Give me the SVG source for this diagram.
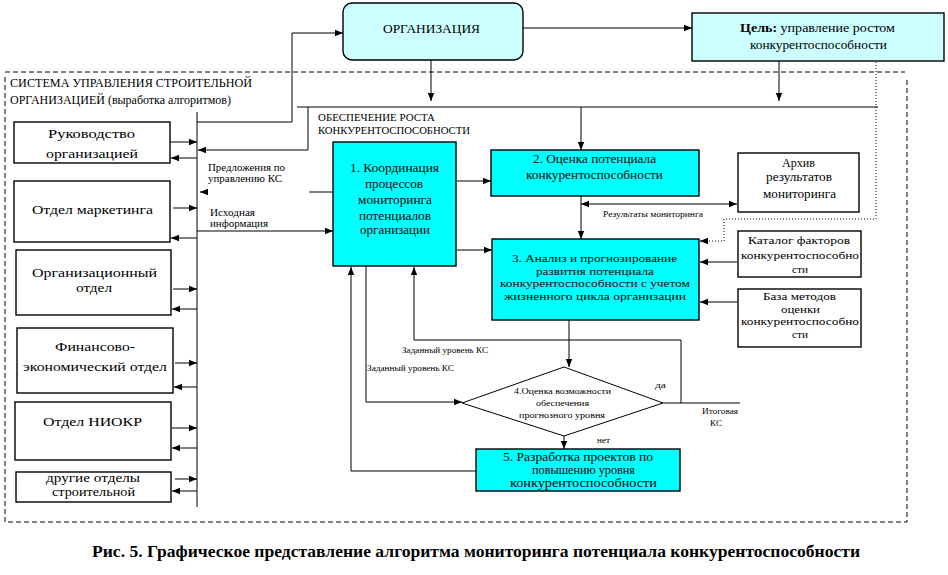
<svg xmlns="http://www.w3.org/2000/svg" width="948" height="575" viewBox="0 0 948 575" font-family="Liberation Serif, serif">
<style>
text{font-family:Liberation Serif, serif;fill:#000}
.b{font-size:13.5px}
.m{font-size:12px}
.n{font-size:11px}
.s{font-size:10px}
.xs{font-size:8.5px}
.box{stroke:#000;stroke-width:1.4}
.cy{fill:#00ffff}
.lc{fill:#ccffff}
.wh{fill:#fff}
.ln{fill:none;stroke:#000;stroke-width:1}
.ar{fill:none;stroke:#000;stroke-width:1;marker-end:url(#ah)}
.dash{fill:none;stroke:#000;stroke-width:1;stroke-dasharray:5,3}
.dot{fill:none;stroke:#000;stroke-width:1;stroke-dasharray:1,2}
</style>
<defs>
<marker id="ah" viewBox="0 0 10 10" refX="10" refY="5" markerWidth="8" markerHeight="8" markerUnits="userSpaceOnUse" orient="auto"><path d="M0,1 L10,5 L0,9 z" fill="#000"/></marker>
<marker id="as" viewBox="0 0 10 10" refX="0" refY="5" markerWidth="8" markerHeight="8" markerUnits="userSpaceOnUse" orient="auto"><path d="M10,1 L0,5 L10,9 z" fill="#000"/></marker>
</defs>
<rect width="948" height="575" fill="#fff"/>

<g id="system-boundary">
<path class="dash" d="M5,72 H905 M907,80 V522 H5 V76"/>
<text class="m" x="10" y="87" textLength="242" lengthAdjust="spacingAndGlyphs">СИСТЕМА УПРАВЛЕНИЯ СТРОИТЕЛЬНОЙ</text>
<text class="m" x="10" y="104" textLength="221" lengthAdjust="spacingAndGlyphs">ОРГАНИЗАЦИЕЙ (выработка алгоритмов)</text>
</g>

<g id="connectors">
<path class="ar" d="M523,28 H692"/>
<path class="ar" d="M431,60 V101"/>
<path class="ar" d="M779,61 V101"/>
<path class="ln" d="M297,107 H878"/>
<path class="ar" d="M581,107 V150"/>
<path class="ar" d="M308,107 V150 H198"/>
<path class="ln" d="M197,112 V507"/>
<path class="ar" d="M197,122 H292 V33 H343"/>
<path class="ar" d="M170,142 H197"/>
<path class="ar" d="M197,158 H171"/>
<path class="ar" d="M173,208 H197"/>
<path class="ar" d="M197,238 H171"/>
<path class="ar" d="M173,289 H197"/>
<path class="ar" d="M197,309 H172"/>
<path class="ar" d="M175,363 H197"/>
<path class="ar" d="M197,387 H174"/>
<path class="ar" d="M172,428 H197"/>
<path class="ar" d="M197,448 H172"/>
<path class="ar" d="M175,479 H197"/>
<path class="ar" d="M197,491 H172"/>
<path class="ln" d="M309,192 H333"/>
<path class="ar" d="M208,192 H200"/>
<path class="ar" d="M197,231 H333"/>
<path class="ar" d="M457,181 H491"/>
<path class="ar" d="M457,250 H492"/>
<path class="ar" d="M581,196 V239"/>
<path class="ln" d="M581,204 H737" marker-start="url(#as)" marker-end="url(#ah)"/>
<path class="dot" d="M876,62 V219 H724 V241 H706"/>
<path class="ar" d="M706,241 H700"/>
<path class="ar" d="M737,262 H700"/>
<path class="ar" d="M737,302 H700"/>
<path class="ar" d="M569,320 V367"/>
<path class="ar" d="M663,403 H681 V340 H414 V267"/>
<path class="ln" d="M681,403 H740"/>
<path class="ar" d="M366,266 V402 H462"/>
<path class="ar" d="M564,436 V449"/>
<path class="ar" d="M476,471 H351 V267"/>
</g>

<g id="org">
<rect class="box lc" x="343" y="3" width="180" height="57" rx="9"/>
<text class="b" x="383" y="33" textLength="97" lengthAdjust="spacingAndGlyphs">ОРГАНИЗАЦИЯ</text>
</g>

<g id="goal">
<rect class="box lc" x="692" y="13" width="252" height="48"/>
<text class="m" x="740" y="32" textLength="155" lengthAdjust="spacingAndGlyphs"><tspan font-weight="bold">Цель:</tspan> управление ростом</text>
<text class="m" x="750" y="49" textLength="137" lengthAdjust="spacingAndGlyphs">конкурентоспособности</text>
</g>

<g id="ensure-label">
<text class="s" x="318" y="121" textLength="117" lengthAdjust="spacingAndGlyphs">ОБЕСПЕЧЕНИЕ РОСТА</text>
<text class="s" x="318" y="134" textLength="152" lengthAdjust="spacingAndGlyphs">КОНКУРЕНТОСПОСОБНОСТИ</text>
</g>

<g id="dept-management">
<rect class="box wh" x="14" y="122" width="156" height="41"/>
<text class="b" x="48" y="138" textLength="87" lengthAdjust="spacingAndGlyphs">Руководство</text>
<text class="b" x="46" y="158" textLength="92" lengthAdjust="spacingAndGlyphs">организацией</text>
</g>
<g id="dept-marketing">
<rect class="box wh" x="14" y="181" width="156" height="61"/>
<text class="b" x="32" y="214" textLength="121" lengthAdjust="spacingAndGlyphs">Отдел маркетинга</text>
</g>
<g id="dept-org">
<rect class="box wh" x="16" y="250" width="155" height="65"/>
<text class="b" x="32" y="277" textLength="125" lengthAdjust="spacingAndGlyphs">Организационный</text>
<text class="b" x="76" y="292" textLength="36" lengthAdjust="spacingAndGlyphs">отдел</text>
</g>
<g id="dept-finance">
<rect class="box wh" x="17" y="328" width="156" height="65"/>
<text class="b" x="55" y="351" textLength="80" lengthAdjust="spacingAndGlyphs">Финансово-</text>
<text class="b" x="23" y="371" textLength="144" lengthAdjust="spacingAndGlyphs">экономический отдел</text>
</g>
<g id="dept-rnd">
<rect class="box wh" x="15" y="402" width="156" height="58"/>
<text class="b" x="43" y="426" textLength="99" lengthAdjust="spacingAndGlyphs">Отдел НИОКР</text>
</g>
<g id="dept-other">
<rect class="box wh" x="16" y="472" width="155" height="30"/>
<text class="m" x="46" y="482" textLength="94" lengthAdjust="spacingAndGlyphs">другие отделы</text>
<text class="m" x="52" y="496" textLength="83" lengthAdjust="spacingAndGlyphs">строительной</text>
</g>

<g id="labels">
<text class="s" x="208" y="171" textLength="77" lengthAdjust="spacingAndGlyphs">Предложения по</text>
<text class="s" x="208" y="182" textLength="74" lengthAdjust="spacingAndGlyphs">управлению КС</text>
<text class="s" x="210" y="216" textLength="45" lengthAdjust="spacingAndGlyphs">Исходная</text>
<text class="s" x="210" y="227" textLength="58" lengthAdjust="spacingAndGlyphs">информация</text>
<text class="xs" x="603" y="217" textLength="100" lengthAdjust="spacingAndGlyphs">Результаты мониторинга</text>
<text class="xs" x="402" y="353" textLength="86" lengthAdjust="spacingAndGlyphs">Заданный уровень КС</text>
<text class="xs" x="367" y="371" textLength="87" lengthAdjust="spacingAndGlyphs">Заданный уровень КС</text>
<text class="xs" x="655" y="388" textLength="11" lengthAdjust="spacingAndGlyphs">да</text>
<text class="xs" x="597" y="443" textLength="13" lengthAdjust="spacingAndGlyphs">нет</text>
<text class="xs" x="702" y="414" textLength="36" lengthAdjust="spacingAndGlyphs">Итоговая</text>
<text class="xs" x="710" y="426" textLength="12" lengthAdjust="spacingAndGlyphs">КС</text>
</g>

<g id="step1">
<rect class="box cy" x="333" y="142" width="123" height="124"/>
<text class="m" x="350" y="172" textLength="89" lengthAdjust="spacingAndGlyphs">1. Координация</text>
<text class="m" x="365" y="188" textLength="58" lengthAdjust="spacingAndGlyphs">процессов</text>
<text class="m" x="358" y="204" textLength="74" lengthAdjust="spacingAndGlyphs">мониторинга</text>
<text class="m" x="359" y="220" textLength="72" lengthAdjust="spacingAndGlyphs">потенциалов</text>
<text class="m" x="360" y="234" textLength="70" lengthAdjust="spacingAndGlyphs">организации</text>
</g>

<g id="step2">
<rect class="box cy" x="491" y="150" width="208" height="46"/>
<text class="m" x="533" y="163" textLength="123" lengthAdjust="spacingAndGlyphs">2. Оценка потенциала</text>
<text class="m" x="526" y="179" textLength="137" lengthAdjust="spacingAndGlyphs">конкурентоспособности</text>
</g>

<g id="archive">
<rect class="box wh" x="738" y="153" width="121" height="59"/>
<text class="m" x="782" y="167" textLength="33" lengthAdjust="spacingAndGlyphs">Архив</text>
<text class="m" x="766" y="181" textLength="66" lengthAdjust="spacingAndGlyphs">результатов</text>
<text class="m" x="763" y="198" textLength="73" lengthAdjust="spacingAndGlyphs">мониторинга</text>
</g>

<g id="step3">
<rect class="box cy" x="492" y="239" width="207" height="81"/>
<text class="n" x="512" y="262" textLength="165" lengthAdjust="spacingAndGlyphs">3. Анализ и прогнозирование</text>
<text class="n" x="536" y="274.5" textLength="118" lengthAdjust="spacingAndGlyphs">развития потенциала</text>
<text class="n" x="500" y="287" textLength="190" lengthAdjust="spacingAndGlyphs">конкурентоспособности с учетом</text>
<text class="n" x="504" y="299.5" textLength="182" lengthAdjust="spacingAndGlyphs">жизненного цикла  организации</text>
</g>

<g id="catalog">
<rect class="box wh" x="738" y="231" width="123" height="46"/>
<text class="n" x="748" y="244" textLength="102" lengthAdjust="spacingAndGlyphs">Каталог факторов</text>
<text class="n" x="741" y="259" textLength="118" lengthAdjust="spacingAndGlyphs">конкурентоспособно</text>
<text class="n" x="792" y="273" textLength="16" lengthAdjust="spacingAndGlyphs">сти</text>
</g>

<g id="methods">
<rect class="box wh" x="738" y="289" width="123" height="58"/>
<text class="n" x="763" y="300" textLength="73" lengthAdjust="spacingAndGlyphs">База методов</text>
<text class="n" x="781" y="312.5" textLength="39" lengthAdjust="spacingAndGlyphs">оценки</text>
<text class="n" x="741" y="325" textLength="118" lengthAdjust="spacingAndGlyphs">конкурентоспособно</text>
<text class="n" x="792" y="337.5" textLength="16" lengthAdjust="spacingAndGlyphs">сти</text>
</g>

<g id="step4">
<polygon points="564,367 663,403 564,436 462,403" fill="#fff" stroke="#000" stroke-width="1"/>
<text class="xs" x="514" y="394" textLength="97" lengthAdjust="spacingAndGlyphs">4.Оценка возможности</text>
<text class="xs" x="536" y="406" textLength="53" lengthAdjust="spacingAndGlyphs">обеспечения</text>
<text class="xs" x="519" y="418" textLength="86" lengthAdjust="spacingAndGlyphs">прогнозного уровня</text>
</g>

<g id="step5">
<rect class="box cy" x="476" y="449" width="204" height="42"/>
<text class="m" x="503" y="461" textLength="150" lengthAdjust="spacingAndGlyphs">5. Разработка  проектов по</text>
<text class="m" x="532" y="474" textLength="103" lengthAdjust="spacingAndGlyphs">повышению уровня</text>
<text class="m" x="510" y="487" textLength="147" lengthAdjust="spacingAndGlyphs">конкурентоспособности</text>
</g>

<g id="caption">
<text x="92" y="557" font-size="16" font-weight="bold" textLength="768" lengthAdjust="spacingAndGlyphs">Рис. 5. Графическое представление алгоритма мониторинга потенциала конкурентоспособности</text>
</g>
</svg>
